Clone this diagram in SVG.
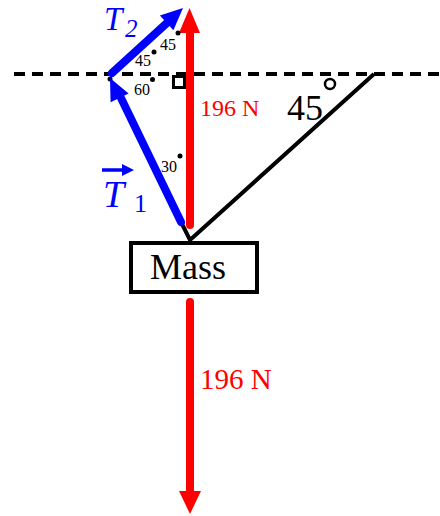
<svg xmlns="http://www.w3.org/2000/svg" width="440" height="516" viewBox="0 0 440 516">
<style>
.ser{font-family:"Liberation Serif","Times New Roman",serif}
.red{fill:#ff0000}
.blue{fill:#0000ff}
.lbl{fill:#000;font-size:16px}
.dot{fill:#000}
</style>
<rect width="440" height="516" fill="#fff"/>
<g id="connectors">
  <line x1="14" y1="74" x2="440" y2="74" stroke="#000" stroke-width="4" stroke-dasharray="11 7"/>
  <polyline points="181,222 190,240 374,74" fill="none" stroke="#000" stroke-width="4"/>
  <g id="up-arrow">
    <line x1="190" y1="30" x2="190" y2="225" stroke="#ff0000" stroke-width="8" stroke-linecap="round"/>
    <polygon points="189.5,8 200,33 179,33" fill="#ff0000"/>
  </g>
  <g id="down-arrow">
    <line x1="190" y1="302" x2="190" y2="494" stroke="#ff0000" stroke-width="8" stroke-linecap="round"/>
    <polygon points="190,514 179,491 201,491" fill="#ff0000"/>
  </g>
  <circle class="dot" cx="110" cy="79" r="2.5"/>
  <g id="t2-arrow">
    <line x1="112" y1="73" x2="168" y2="22" stroke="#0000ff" stroke-width="8" stroke-linecap="round"/>
    <polygon points="183,8 173.4,30.3 159.9,15.5" fill="#0000ff"/>
  </g>
  <g id="t1-arrow">
    <line x1="181" y1="222" x2="121" y2="98" stroke="#0000ff" stroke-width="8" stroke-linecap="round"/>
    <polygon points="110,78 128.6,93.4 110.6,102.2" fill="#0000ff"/>
  </g>
  <rect x="173.5" y="76.5" width="11" height="11" fill="none" stroke="#000" stroke-width="3"/>
  <circle cx="330" cy="84" r="5" fill="none" stroke="#000" stroke-width="2.5"/>
</g>
<g id="mass">
  <rect x="131" y="243" width="126" height="49" fill="#fff" stroke="#000" stroke-width="4"/>
  <text class="ser" x="188" y="279" font-size="36" text-anchor="middle" fill="#000">Mass</text>
</g>
<g id="labels">
  <text class="ser red" x="200" y="116" font-size="24">196 N</text>
  <text class="ser red" x="200" y="389" font-size="29">196 N</text>
  <text class="ser" x="287" y="120" font-size="36" fill="#000">45</text>
  <text class="ser blue" x="104" y="30" font-size="33" font-style="italic">T</text>
  <text class="ser blue" x="125" y="37" font-size="25" font-style="italic">2</text>
  <line x1="102" y1="170" x2="125" y2="170" stroke="#0000ff" stroke-width="3.5"/>
  <polygon points="134,170 122,164 122,176" fill="#0000ff"/>
  <text class="ser blue" x="103" y="207" font-size="38" font-style="italic">T</text>
  <text class="ser blue" x="134" y="212" font-size="26">1</text>
  <text class="ser lbl" x="160" y="50">45</text>
  <circle class="dot" cx="178" cy="33" r="2.5"/>
  <text class="ser lbl" x="135" y="66">45</text>
  <circle class="dot" cx="154" cy="52" r="2.5"/>
  <text class="ser lbl" x="134" y="95">60</text>
  <circle class="dot" cx="152.5" cy="79.5" r="2.5"/>
  <text class="ser lbl" x="161" y="172">30</text>
  <circle class="dot" cx="180" cy="156" r="2.5"/>
</g>
</svg>
